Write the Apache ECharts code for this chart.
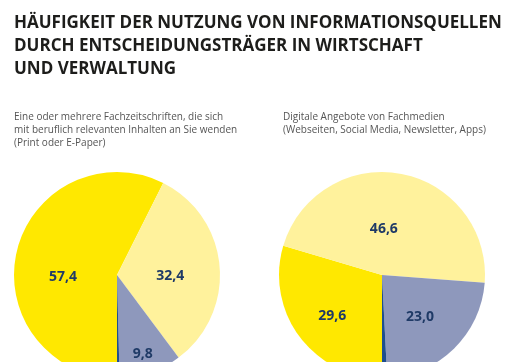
<!DOCTYPE html>
<html>
<head>
<meta charset="utf-8">
<script src="https://cdn.jsdelivr.net/npm/echarts@6/dist/echarts.min.js"></script>
<style>html,body{margin:0;padding:0;background:#fff}#c{width:520px;height:362px}</style>
</head>
<body>
<div id="c"></div>
<script>
var categories = ['Häufig', 'Gelegentlich', 'Selten', 'Nie'];
var printValues = [57.4, 32.4, 9.8, 0.4];
var digitalValues = [29.6, 46.6, 23.0, 0.8];
var colors = ['#FFE800', '#FFF29C', '#8E98BC', '#1F4E8C'];
var titleText = 'HÄUFIGKEIT DER NUTZUNG VON INFORMATIONSQUELLEN\nDURCH ENTSCHEIDUNGSTRÄGER IN WIRTSCHAFT\nUND VERWALTUNG';
var printSubtitle = 'Eine oder mehrere Fachzeitschriften, die sich\nmit beruflich relevanten Inhalten an Sie wenden\n(Print oder E-Paper)';
var digitalSubtitle = 'Digitale Angebote von Fachmedien\n(Webseiten, Social Media, Newsletter, Apps)';

var printOffsets = [[-1, 15], [-1, 6], [8, 28], [0, 0]];
var digitalOffsets = [[-6, 8], [-8, 8], [0, 3], [0, 0]];

function fmt(v) { return v.toFixed(1).replace('.', ','); }
function buildData(values, offsets) {
  return values.map(function (v, i) {
    return {
      name: categories[i], value: v,
      itemStyle: { color: colors[i] },
      label: { show: i < 3, offset: offsets[i] }
    };
  });
}
function pieSeries(values, offsets, center) {
  return {
    type: 'pie', radius: 103, center: center,
    startAngle: 270, clockwise: true, silent: true, animation: false,
    label: {
      show: true, position: 'inside',
      formatter: function (p) { return fmt(p.value); },
      color: '#1F3A66', fontFamily: 'Open Sans', fontWeight: 'bold', fontSize: 14
    },
    labelLine: { show: false },
    itemStyle: { borderWidth: 0 },
    data: buildData(values, offsets)
  };
}
var chart = echarts.init(document.getElementById('c'), null, { renderer: 'canvas' });
chart.setOption({
  backgroundColor: '#fff',
  title: [
    { text: titleText, left: 9, top: 7,
      textStyle: { fontFamily: 'Open Sans', fontWeight: 'bold', fontSize: 17, lineHeight: 23, color: '#1d1d1b' } },
    { text: printSubtitle, left: 9, top: 106,
      textStyle: { fontFamily: 'Open Sans', fontWeight: 'normal', fontSize: 10, lineHeight: 13, color: '#555' } },
    { text: digitalSubtitle, left: 278, top: 106,
      textStyle: { fontFamily: 'Open Sans', fontWeight: 'normal', fontSize: 10, lineHeight: 13, color: '#555' } }
  ],
  series: [
    pieSeries(printValues, printOffsets, [117, 275]),
    pieSeries(digitalValues, digitalOffsets, [382, 275])
  ]
});
</script>
</body>
</html>
